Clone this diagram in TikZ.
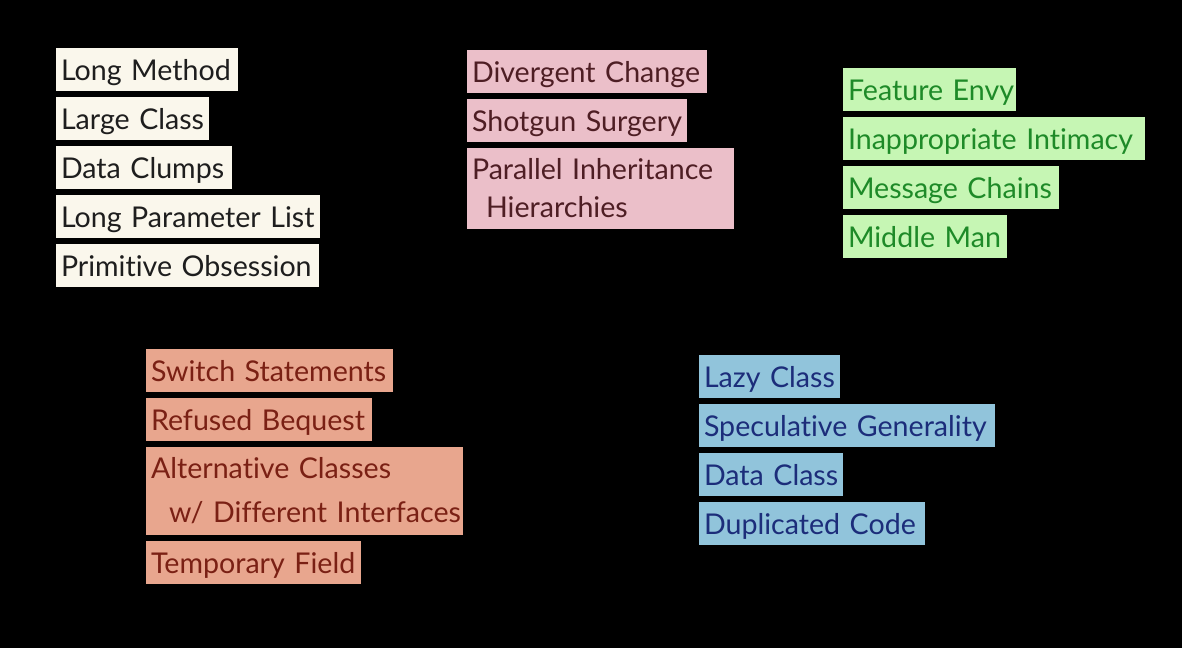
\documentclass[tikz,border=0pt]{standalone}
\usepackage{fontspec}
\setmainfont[Ligatures=NoCommon]{Lato}
\usetikzlibrary{positioning}
\definecolor{bloatfill}{RGB}{250,247,236}
\definecolor{bloattext}{RGB}{30,30,30}
\definecolor{changefill}{RGB}{235,191,201}
\definecolor{changetext}{RGB}{78,30,36}
\definecolor{couplefill}{RGB}{198,246,180}
\definecolor{coupletext}{RGB}{30,138,40}
\definecolor{abusefill}{RGB}{232,166,142}
\definecolor{abusetext}{RGB}{122,32,20}
\definecolor{dispfill}{RGB}{145,196,219}
\definecolor{disptext}{RGB}{28,45,122}

\begin{document}
\begin{tikzpicture}[x=1pt,y=-1pt]

    \tikzstyle{smell}=[anchor=north west,outer sep=0pt,inner xsep=5pt,inner ysep=6pt,align=left,font=\fontsize{28.6}{38}\selectfont,text height=26pt,text depth=5pt]
    \tikzstyle{bloater}=[smell,fill=bloatfill,text=bloattext]
    \tikzstyle{changer}=[smell,fill=changefill,text=changetext]
    \tikzstyle{coupler}=[smell,fill=couplefill,text=coupletext]
    \tikzstyle{abuser}=[smell,fill=abusefill,text=abusetext]
    \tikzstyle{dispensable}=[smell,fill=dispfill,text=disptext]
    \tikzstyle{twoline}=[text height={},text depth={}]
      \coordinate (origo) at (0,0);

\fill[black] (origo) rectangle (1182,648);

\node (bloat_1) [bloater,text width=172pt] at (56,48) {Long~Method};
\node (bloat_2) [bloater,text width=143pt,below right=6pt and 0pt of bloat_1.south west] {Large~Class};
\node (bloat_3) [bloater,text width=166pt,below right=6pt and 0pt of bloat_2.south west] {Data~Clumps};
\node (bloat_4) [bloater,text width=254pt,below right=6pt and 0pt of bloat_3.south west] {Long~Parameter~List};
\node (bloat_5) [bloater,text width=253pt,below right=6pt and 0pt of bloat_4.south west] {Primitive~Obsession};

\node (change_1) [changer,text width=230pt] at (467,50) {Divergent~Change};
\node (change_2) [changer,text width=210pt,below right=6pt and 0pt of change_1.south west] {Shotgun~Surgery};
\node (change_3) [changer,twoline,text width=257pt,minimum height=81pt,below right=6pt and 0pt of change_2.south west] {Parallel~Inheritance\\\hspace*{14pt}Hierarchies};

\node (couple_1) [coupler,text width=163pt] at (843,68) {Feature~Envy};
\node (couple_2) [coupler,text width=292pt,below right=6pt and 0pt of couple_1.south west] {Inappropriate~Intimacy};
\node (couple_3) [coupler,text width=206pt,below right=6pt and 0pt of couple_2.south west] {Message~Chains};
\node (couple_4) [coupler,text width=154pt,below right=6pt and 0pt of couple_3.south west] {Middle~Man};

\node (abuse_1) [abuser,text width=237pt] at (146,349) {Switch~Statements};
\node (abuse_2) [abuser,text width=216pt,below right=6pt and 0pt of abuse_1.south west] {Refused~Bequest};
\node (abuse_3) [abuser,twoline,text width=307pt,minimum height=88pt,font=\fontsize{28.6}{44}\selectfont,below right=6pt and 0pt of abuse_2.south west] {Alternative~Classes\\\hspace*{18pt}\mbox{w/~Different~Interfaces}};
\node (abuse_4) [abuser,text width=205pt,below right=6pt and 0pt of abuse_3.south west] {Temporary~Field};

\node (disp_1) [dispensable,text width=131pt] at (699,355) {Lazy~Class};
\node (disp_2) [dispensable,text width=286pt,below right=6pt and 0pt of disp_1.south west] {Speculative~Generality};
\node (disp_3) [dispensable,text width=134pt,below right=6pt and 0pt of disp_2.south west] {Data~Class};
\node (disp_4) [dispensable,text width=216pt,below right=6pt and 0pt of disp_3.south west] {Duplicated~Code};

\end{tikzpicture}
\end{document}
